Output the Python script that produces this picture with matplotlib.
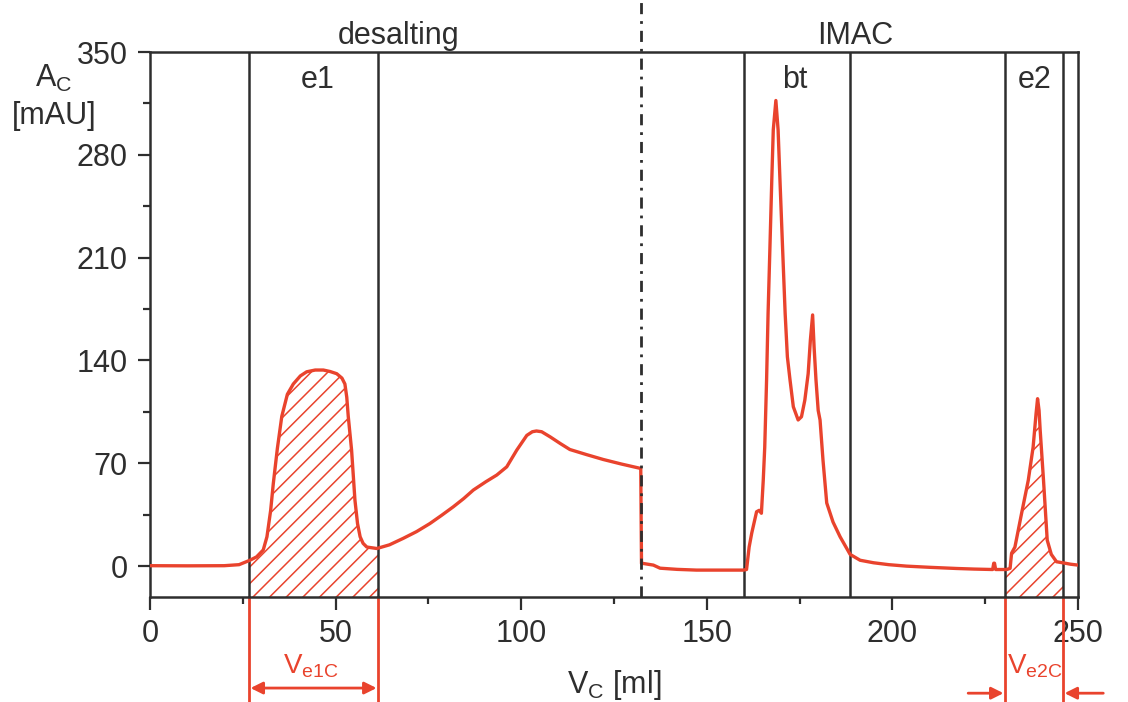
import numpy as np
import matplotlib
matplotlib.use('Agg')
import matplotlib.pyplot as plt
from matplotlib.ticker import MultipleLocator

plt.rcParams['font.family'] = ['Liberation Sans', 'DejaVu Sans']
plt.rcParams['mathtext.fontset'] = 'custom'
plt.rcParams['mathtext.rm'] = 'Liberation Sans'
plt.rcParams['mathtext.default'] = 'regular'
plt.rcParams['hatch.linewidth'] = 1.1

# chromatogram: desalting run, then IMAC run
vc_desalt = [0, 10, 20, 24, 26.9, 28.7, 30.5, 31.5, 32.5, 33.2, 34.3, 35.5, 37, 38.6, 40.5,
             42.2, 44.5, 46.7, 48.5, 50.3, 51.7, 52.5, 53, 53.4, 54.3, 55.2, 55.9, 56.6,
             57.4, 58.4, 61.1, 64.5, 68.2, 71.8, 75.4, 78.5, 81.7, 84.5, 87.1, 90.5, 93.4,
             96.1, 98.8, 101.5, 103, 104.1, 105.5, 107.8, 110.5, 113.1, 117.5, 122.1, 127,
             132.2]
ac_desalt = [0.3, 0.2, 0.3, 1, 4, 6.3, 11, 20, 38, 56, 80, 102, 117, 124, 129.5,
             132.3, 133.5, 133.5, 132.5, 131, 128, 124, 115, 102, 79, 45, 29, 20,
             15.5, 13, 12, 14.5, 18.9, 23.5, 29, 34.5, 40.4, 46, 51.8, 57.5, 62,
             67.6, 79, 89, 91.5, 92, 91.5, 88, 83.5, 79.4, 76, 72.6, 69.5,
             66.5]

vc_imac = [132.4, 132.9, 135.6, 137.4, 142, 147.2, 153, 159.8, 160.7, 161.4, 162.1, 163.4,
           164.1, 164.7, 165.2, 165.6, 166.1, 166.5, 167, 167.5, 167.9, 168.6, 169.2,
           169.7, 170.4, 171.1, 171.7, 172.4, 173.3, 174.6, 175.5, 176.4, 177.3, 177.9,
           178.5, 178.9, 179.4, 180.0, 180.5, 181.3, 182.3, 184, 185.9, 188.6, 191.3,
           194.9, 199, 203.8, 210, 217.3, 222, 227.0, 227.3, 227.5, 227.8, 230.8, 231.7,
           232.1, 233, 234.8, 236.6, 237.9, 238.7, 239.1, 239.5, 239.8, 240.7, 241.7,
           242.8, 244.2, 246.5, 248, 250]
ac_imac = [1.8, 1.8, 0.7, -1.4, -2.2, -2.7, -2.7, -2.7, -2.3, 13, 22.5, 37,
           38, 36, 58.5, 81, 127, 172, 217, 263, 297, 317, 297,
           263, 217, 172, 142.5, 127, 108.5, 99.5, 101.7, 113, 131, 154,
           171, 149, 127, 106, 99.5, 72, 43, 30, 20, 8, 4,
           2.3, 1, 0, -0.8, -1.6, -2, -2.3, 2, 2, -2.3, -2.3, -1.5,
           8.8, 13, 36, 58.5, 81, 104, 114, 106, 92.6, 58.5, 17.7,
           8, 3, 2, 1.3, 0.7]

# fraction borders [ml]
e1 = (26.7, 61.4)
bt = (160.0, 188.6)
e2 = (230.3, 246.0)
switch = 132.3

section_labels = ['desalting', 'IMAC']
fraction_labels = ['e1', 'bt', 'e2']

red = '#e9432d'
dark = '#2e2e2e'

vc = np.array(vc_desalt + vc_imac)
ac = np.array(ac_desalt + ac_imac)

fig = plt.figure(figsize=(11.28, 7.02), dpi=100)
ax = fig.add_axes([0.133, 0.1496, 0.8227, 0.7763])
ymin = -21
ax.set_xlim(0, 250)
ax.set_ylim(ymin, 350)

# hatched elution areas
for lo, hi in [e1, e2]:
    m = (vc >= lo) & (vc <= hi)
    xs = np.concatenate([[lo], vc[m], [hi]])
    ys = np.interp(xs, vc, ac)
    ax.fill_between(xs, ymin, ys, facecolor='none', edgecolor=red, hatch='//', linewidth=0)

ax.plot(vc, ac, color=red, lw=2.4, zorder=4)

for x in [e1[0], e1[1], bt[0], bt[1], e2[0], e2[1]]:
    ax.axvline(x, color=dark, lw=1.8, zorder=3)

ax.plot([switch, switch], [ymin, 385.5], color=dark, lw=2,
        linestyle=(0, (4, 2.5, 1, 2.5)), clip_on=False, zorder=5)

# text labels
fs = 22
ax.text(66.9, 355.5, section_labels[0], ha='center', va='baseline', fontsize=fs, color=dark)
ax.text(190.0, 355.5, section_labels[1], ha='center', va='baseline', fontsize=fs, color=dark)
ax.text(45.3, 325.5, fraction_labels[0], ha='center', va='baseline', fontsize=fs, color=dark)
ax.text(173.8, 325.5, fraction_labels[1], ha='center', va='baseline', fontsize=fs, color=dark)
ax.text(238.2, 325.5, fraction_labels[2], ha='center', va='baseline', fontsize=fs, color=dark)

ax.text(-25.9, 326, 'A$_C$', ha='center', va='baseline', fontsize=fs, color=dark)
ax.text(-25.9, 301, '[mAU]', ha='center', va='baseline', fontsize=fs, color=dark)
ax.text(125, -86.5, 'V$_C$ [ml]', ha='center', va='baseline', fontsize=fs, color=dark)

# volume annotations below the axis
for x in [e1[0], e1[1], e2[0], e2[1]]:
    ax.plot([x, x], [ymin, -92], color=red, lw=2, clip_on=False)
ax.annotate('', xy=(e1[1], -83), xytext=(e1[0], -83),
            arrowprops=dict(arrowstyle='<|-|>', color=red, lw=2, mutation_scale=18,
                            shrinkA=1, shrinkB=1), annotation_clip=False)
ax.annotate('', xy=(e2[0], -86.5), xytext=(220.4, -86.5),
            arrowprops=dict(arrowstyle='-|>', color=red, lw=2, mutation_scale=18,
                            shrinkA=0, shrinkB=1), annotation_clip=False)
ax.annotate('', xy=(e2[1], -86.5), xytext=(256.8, -86.5),
            arrowprops=dict(arrowstyle='-|>', color=red, lw=2, mutation_scale=18,
                            shrinkA=0, shrinkB=1), annotation_clip=False)
ax.text(43.4, -73, 'V$_{e1C}$', ha='center', va='baseline', fontsize=20, color=red)
ax.text(238.3, -73, 'V$_{e2C}$', ha='center', va='baseline', fontsize=20, color=red)

# axes styling
ax.xaxis.set_major_locator(MultipleLocator(50))
ax.xaxis.set_minor_locator(MultipleLocator(25))
ax.yaxis.set_major_locator(MultipleLocator(70))
ax.yaxis.set_minor_locator(MultipleLocator(35))
ax.tick_params(which='major', length=9, width=1.6, labelsize=fs, colors=dark, pad=7)
ax.tick_params(which='minor', length=5, width=1.6, colors=dark)
for s in ax.spines.values():
    s.set_linewidth(1.8)
    s.set_color(dark)

fig.savefig('out.png', dpi=100)
